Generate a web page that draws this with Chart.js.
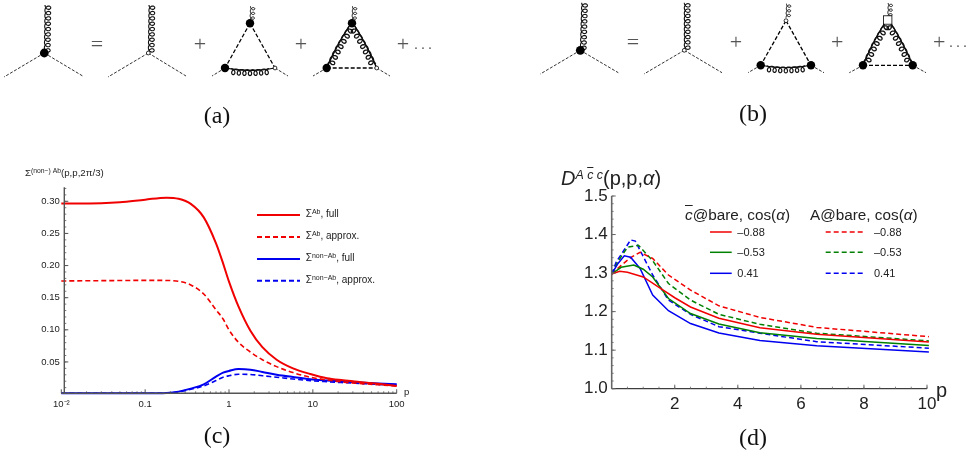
<!DOCTYPE html>
<html><head><meta charset="utf-8">
<script src="https://cdn.jsdelivr.net/npm/chart.js@4/dist/chart.umd.min.js"></script>
<style>
html,body{margin:0;padding:0;background:#fff;width:974px;height:453px;overflow:hidden}
canvas{position:absolute}
#dg{position:absolute;left:0;top:0}
.t{position:absolute;white-space:nowrap;font-family:"Liberation Sans",Arial,sans-serif;color:#222;line-height:1;filter:grayscale(1)}
.s{font-family:"Liberation Serif",serif;color:#111;font-size:24px;transform:translateX(-50%)}
sup{font-size:.7em;line-height:0;vertical-align:baseline;position:relative;top:-.45em}
i.o{text-decoration:overline;text-decoration-thickness:1px}
</style></head><body>
<svg id="dg" width="974" height="453" xmlns="http://www.w3.org/2000/svg"></svg>
<canvas id="cc" style="left:0;top:160px"></canvas>
<canvas id="cd" style="left:540px;top:160px"></canvas>
<div class="t s" style="left:217px;top:103px">(a)</div>
<div class="t s" style="left:753px;top:101px">(b)</div>
<div class="t s" style="left:217px;top:423px">(c)</div>
<div class="t s" style="left:753px;top:425px">(d)</div>
<div class="t" style="left:25px;top:168px;font-size:9.7px">Σ<sup>(non−) Ab</sup>(p,p,2π/3)</div>
<div class="t" style="left:404px;top:387px;font-size:9.5px">p</div>
<div class="t" style="left:561px;top:168px;font-size:20px"><i>D</i><sup style="font-size:.62em"><i>A</i> <i class="o">c</i> <i>c</i></sup>(p,p,<i>α</i>)</div>
<div class="t" style="left:936px;top:380px;font-size:20px">p</div>
<div id="lg"></div>
<script>
// Chart (c)
const pC=[0.01,0.03,0.05,0.1,0.18,0.25,0.35,0.5,0.7,0.85,1,1.3,1.8,2.5,3.7,5.8,9.3,14.7,23,36,60,100];
const redFull=[.2964,.297,.2985,.3026,.3057,.304,.296,.275,.2346,.2035,.175,.136,.0985,.073,.0535,.040,.0313,.0246,.0215,.0189,.016,.0127];
const redApprox=[.176,.1765,.1767,.177,.1768,.1755,.1698,.1558,.131,.1169,.0998,.0805,.0655,.0535,.0427,.0334,.0262,.022,.0187,.0165,.0145,.0127];
const blueFull=[.0012,.0012,.0012,.0012,.0018,.0038,.0085,.0152,.0272,.0334,.036,.039,.038,.0345,.0302,.0265,.023,.021,.0194,.018,.0166,.0153];
const blueApprox=[.0012,.0012,.0012,.0012,.0016,.0034,.0075,.0127,.021,.0262,.0285,.0308,.0305,.0285,.0262,.0235,.0209,.0192,.0178,.0165,.015,.0137];
const xTicksC=[0.01,0.1,1,10,100];
const yTicksC=[0.05,0.10,0.15,0.20,0.25,0.30];
const legendC=["Σ<sup>Ab</sup>, full","Σ<sup>Ab</sup>, approx.","Σ<sup>non−Ab</sup>, full","Σ<sup>non−Ab</sup>, approx."];
// Chart (d)
const pRedFull=[0,.25,.5,1,1.5,2,2.5,3.4,4.7,6.5,10.06];
const dRedFull=[1.2976,1.3045,1.302,1.29,1.263,1.236,1.212,1.183,1.158,1.141,1.121];
const pGreenFull=[0,.3,.7,1,1.3,1.8,2.5,3.4,4.7,6.5,10.06];
const dGreenFull=[1.2976,1.315,1.321,1.31,1.29,1.234,1.195,1.168,1.145,1.13,1.112];
const pBlueFull=[0,.2,.4,.6,.9,1.3,1.8,2.5,3.4,4.7,6.5,10.06];
const dBlueFull=[1.2976,1.325,1.345,1.341,1.312,1.243,1.2024,1.169,1.1445,1.125,1.1115,1.095];
const pRedDash=[0,.3,.6,.9,1.3,1.8,2.5,3.4,4.7,6.5,10.06];
const dRedDash=[1.2976,1.32,1.34,1.354,1.338,1.295,1.256,1.215,1.185,1.159,1.135];
const pGreenDash=[0,.2,.5,.85,1.3,1.8,2.5,3.4,4.7,6.5,10.06];
const dGreenDash=[1.2976,1.33,1.367,1.372,1.332,1.273,1.23,1.193,1.167,1.144,1.124];
const pBlueDash=[0,.15,.3,.6,.75,1,1.3,1.8,2.5,3.4,4.7,6.5,10.06];
const dBlueDash=[1.2976,1.33,1.348,1.386,1.383,1.343,1.295,1.23,1.193,1.161,1.144,1.122,1.105];
const xTicksD=[2,4,6,8,10];
const yTicksD=[1.0,1.1,1.2,1.3,1.4,1.5];
const cosLabels=["–0.88","–0.53","0.41"];

const RED="#f00000",BLUE="#0000f0",GREEN="#008000";
const zip=(x,y)=>x.map((v,i)=>({x:v,y:y[i]}));
function range(a,b,st){const o=[];const n=Math.round((b-a)/st);for(let i=0;i<=n;i++)o.push(+(a+i*st).toFixed(6));return o;}

function axesPlugin(cfg){return {id:'ax',afterDatasetsDraw(ch){
  const g=ch.ctx,X=ch.scales.x,Y=ch.scales.y,A=ch.chartArea;
  g.save();g.strokeStyle=cfg.color;g.lineWidth=cfg.lw;
  const ax=A.left+cfg.axOff;
  g.beginPath();g.moveTo(ax,A.top);g.lineTo(ax,A.bottom);g.stroke();
  g.strokeStyle=cfg.xColor;g.lineWidth=cfg.xLw;
  g.beginPath();g.moveTo(A.left,A.bottom);g.lineTo(A.right,A.bottom);g.stroke();
  g.strokeStyle=cfg.color;
  g.lineWidth=.8;g.beginPath();
  cfg.yMinor.forEach(v=>{const y=Y.getPixelForValue(v);g.moveTo(ax,y);g.lineTo(ax+cfg.minor,y);});
  cfg.xMinor.forEach(v=>{const x=X.getPixelForValue(v);g.moveTo(x,A.bottom);g.lineTo(x,A.bottom-cfg.minor);});
  g.stroke();g.lineWidth=1;g.beginPath();
  cfg.yMajor.forEach(v=>{const y=Y.getPixelForValue(v);g.moveTo(ax,y);g.lineTo(ax+cfg.major,y);});
  cfg.xMajor.forEach(v=>{const x=X.getPixelForValue(v);g.moveTo(x,A.bottom);g.lineTo(x,A.bottom-cfg.major);});
  g.stroke();g.restore();
}};}

function base(pad,xs,ys,plugin,datasets){return {type:'scatter',data:{datasets},plugins:[plugin],options:{
  responsive:false,animation:false,devicePixelRatio:1,layout:{padding:pad},
  plugins:{legend:{display:false},tooltip:{enabled:false}},
  elements:{point:{radius:0}},scales:{x:xs,y:ys}}};}
function setSize(id,w,h){const c=document.getElementById(id);c.width=w;c.height=h;c.style.width=w+'px';c.style.height=h+'px';return c;}
const ds=(data,color,dash,lw,mono)=>({data,borderColor:color,backgroundColor:color,borderWidth:lw,borderDash:dash,showLine:true,pointRadius:0,clip:false,cubicInterpolationMode:mono?'monotone':'default',tension:0});
const noGrid={display:false,drawTicks:false};

const dec=[];[0.01,0.1,1,10].forEach(d=>{for(let k=2;k<=9;k++)dec.push(+(d*k).toFixed(4));});
const supLab=v=>v===0.01?'10⁻²':String(v);
new Chart(setSize('cc',430,293),base({left:0,right:33.3,top:27.3,bottom:0},
 {type:'logarithmic',min:0.01,max:100,afterFit:s=>{s.height=59.7;},afterBuildTicks:s=>{s.ticks=xTicksC.map(v=>({value:v}));},
  grid:noGrid,border:{display:false},
  ticks:{autoSkip:false,maxRotation:0,padding:5,color:'#222',font:{family:'Liberation Sans',size:9.5},callback:v=>supLab(v)}},
 {type:'linear',min:0.0012,max:0.3218,afterFit:s=>{s.width=61.3;},afterBuildTicks:s=>{s.ticks=yTicksC.map(v=>({value:v}));},
  grid:noGrid,border:{display:false},
  ticks:{autoSkip:false,padding:1.5,color:'#222',font:{family:'Liberation Sans',size:9.5},callback:v=>v.toFixed(2)}},
 axesPlugin({color:'#555',lw:1.4,xColor:'#555',xLw:1.4,axOff:3,major:4,minor:2,yMajor:yTicksC,yMinor:range(0.01,0.32,0.01),xMajor:xTicksC,xMinor:dec}),
 [ds(zip(pC,redFull),RED,[],2,1),ds(zip(pC,redApprox),RED,[5,3],1.6,1),ds(zip(pC,blueFull),BLUE,[],2,1),ds(zip(pC,blueApprox),BLUE,[5,3],1.6,1)]));

new Chart(setSize('cd',434,293),base({left:0,right:47,top:36,bottom:0},
 {type:'linear',min:0,max:10,afterFit:s=>{s.height=64.3;},afterBuildTicks:s=>{s.ticks=xTicksD.map(v=>({value:v}));},
  grid:noGrid,border:{display:false},
  ticks:{autoSkip:false,maxRotation:0,padding:5,color:'#222',font:{family:'Liberation Sans',size:17},callback:v=>String(v)}},
 {type:'linear',min:1,max:1.5,afterFit:s=>{s.width=71.7;},afterBuildTicks:s=>{s.ticks=yTicksD.map(v=>({value:v}));},
  grid:noGrid,border:{display:false},
  ticks:{autoSkip:false,padding:4,color:'#222',font:{family:'Liberation Sans',size:17},callback:v=>v.toFixed(1)}},
 axesPlugin({color:'#666',lw:1.6,xColor:'#111',xLw:1,axOff:0,major:4,minor:2,yMajor:yTicksD,yMinor:range(1,1.5,0.02),xMajor:xTicksD,xMinor:range(0.5,10,0.5)}),
 [ds(zip(pRedFull,dRedFull),RED,[],1.5),ds(zip(pGreenFull,dGreenFull),GREEN,[],1.5),ds(zip(pBlueFull,dBlueFull),BLUE,[],1.5),
  ds(zip(pRedDash,dRedDash),RED,[5,3],1.5),ds(zip(pGreenDash,dGreenDash),GREEN,[5,3],1.5),ds(zip(pBlueDash,dBlueDash),BLUE,[5,3],1.5)]));

// Diagrams and legends
const svg=document.getElementById('dg');
const NS='http://www.w3.org/2000/svg';
function el(n,a){const e=document.createElementNS(NS,n);for(const k in a)e.setAttribute(k,a[k]);svg.appendChild(e);return e;}
function line(a,b,dash,w){el('line',{x1:a[0],y1:a[1],x2:b[0],y2:b[1],stroke:'#000','stroke-width':w||.8,'stroke-dasharray':dash||'3 1.6'});}
function dot(p,r){el('circle',{cx:p[0],cy:p[1],r:r||4.4,fill:'#000'});}
function open(p){el('circle',{cx:p[0],cy:p[1],r:1.9,fill:'#fff',stroke:'#000','stroke-width':.8});}
function coil(a,b,n,r,bend,w,side){
  side=side||1;
  const mx=(a[0]+b[0])/2,my=(a[1]+b[1])/2,dx=b[0]-a[0],dy=b[1]-a[1],L=Math.hypot(dx,dy);
  const c=[mx-dy/L*bend,my+dx/L*bend];let d='';const N=n*24;
  for(let i=0;i<=N;i++){const t=i/N,u=1-t;
    const qx=u*u*a[0]+2*u*t*c[0]+t*t*b[0],qy=u*u*a[1]+2*u*t*c[1]+t*t*b[1];
    let tx=2*u*(c[0]-a[0])+2*t*(b[0]-c[0]),ty=2*u*(c[1]-a[1])+2*t*(b[1]-c[1]);const l=Math.hypot(tx,ty);tx/=l;ty/=l;
    const th=2*Math.PI*n*t,k=r*Math.sin(th),m=side*r*(1-Math.cos(th));
    d+=(i?'L':'M')+(qx+tx*k-ty*m).toFixed(2)+' '+(qy+ty*k+tx*m).toFixed(2);}
  el('path',{d,fill:'none',stroke:'#111','stroke-width':w||1});
}
function arc(a,b,bend,w){const mx=(a[0]+b[0])/2,my=(a[1]+b[1])/2,dx=b[0]-a[0],dy=b[1]-a[1],L=Math.hypot(dx,dy);
  el('path',{d:`M${a[0]} ${a[1]}Q${mx-dy/L*bend} ${my+dx/L*bend} ${b[0]} ${b[1]}`,fill:'none',stroke:'#000','stroke-width':w||1});}
function sym(t,p,s){const e=el('text',{x:p[0],y:p[1],'font-family':'Liberation Serif','font-size':s||22,'text-anchor':'middle',fill:'#555'});e.style.filter='grayscale(1)';e.textContent=t;}
function vertexDiag(v,l,r,top,full){line(v,l);line(v,r);coil(v,top,9,2.9,0,1.1);if(full)dot(v,4.4);else open(v);}
function loop(top,bl,br,l,r,kind,topKind,blBlack,brBlack){
  coil([top[0],top[1]-3],[top[0]+.5,top[1]-17],3,2.2,0);
  line(bl,l);line(br,r);
  if(kind==='ghost'){line(top,bl,'4 2',1.3);line(top,br,'4 2',1.3);arc(bl,br,5,1.1);coil([bl[0]+6,bl[1]+.5],[br[0]-6,br[1]+.5],7,2.9,2.5,1.2,1);}
  else{line(bl,br,'4 2',1.3);
    const tl=[top[0]-3,top[1]+3],tr=[top[0]+3,top[1]+3];
    arc(tl,bl,2,1.4);arc(tr,br,-2,1.4);
    coil(tl,[bl[0]+1,bl[1]-4],7,3.1,2,1.3,-1);coil(tr,[br[0]-1,br[1]-4],7,3.1,-2,1.3,1);}
  if(topKind==='dot')dot(top,4.2);else if(topKind==='open')open(top);
  else el('rect',{x:top[0]-4.2,y:top[1]-4.2,width:8.4,height:8.4,fill:'#fff',stroke:'#000','stroke-width':.8});
  blBlack?dot(bl,4.2):open(bl);brBlack?dot(br,4.2):open(br);
}
// (a)
vertexDiag([44.3,53],[4,77],[82.7,76],[45,5],true);sym('=',[97,51]);
vertexDiag([148.3,53],[108,77],[186,76],[149,5],false);sym('+',[200,51]);
loop([250,23.3],[225,68],[275,68],[212,76],[288,76],'ghost','dot',true,false);sym('+',[301,51]);
loop([352,23.3],[326.7,68],[376.7,68],[313,76],[390,76],'gl','dot',true,false);sym('+',[403,51]);
sym('. . .',[423,49],14);
// (b)
vertexDiag([580.3,50.3],[540.3,74],[618.3,72.7],[581.7,2.7],true);sym('=',[633,48.5]);
vertexDiag([684.3,50.3],[644,74],[722,72.7],[684.3,2.7],false);sym('+',[736,48.5]);
loop([786,20.7],[760.7,65.3],[811,65.3],[748,72.7],[824,72.7],'ghost','open',true,true);sym('+',[837.3,48.5]);
loop([887.7,20],[863,65.3],[912.7,65.3],[849.3,72.7],[926,72.7],'gl','sq',true,true);sym('+',[939.3,48.5]);
sym('. . .',[958,47],14);

const lg=document.getElementById('lg');
function text(h,x,y,fs){const d=document.createElement('div');d.className='t';d.style.cssText=`left:${x}px;top:${y}px;font-size:${fs}px`;d.innerHTML=h;lg.appendChild(d);}
function sw(x1,x2,y,color,dash,w){el('line',{x1,y1:y,x2,y2:y,stroke:color,'stroke-width':w,'stroke-dasharray':dash||'none'});}
[[215,RED,''],[237,RED,'5 3'],[259,BLUE,''],[280.7,BLUE,'5 3']].forEach((r,i)=>{sw(257,300,r[0],r[1],r[2],2);text(legendC[i],305.7,r[0]-6,10);});
text('<i class="o">c</i>@bare, cos(<i>α</i>)',685,206.5,15.3);
text('A@bare, cos(<i>α</i>)',810,206.5,15.3);
[[232,RED],[252.3,GREEN],[273.3,BLUE]].forEach((r,i)=>{
  sw(710,731.7,r[0],r[1],'',1.5);text(cosLabels[i],737.3,r[0]-5.5,11);
  sw(825.7,865,r[0],r[1],'5 3',1.5);text(cosLabels[i],874,r[0]-5.5,11);
});
</script>
</body></html>
